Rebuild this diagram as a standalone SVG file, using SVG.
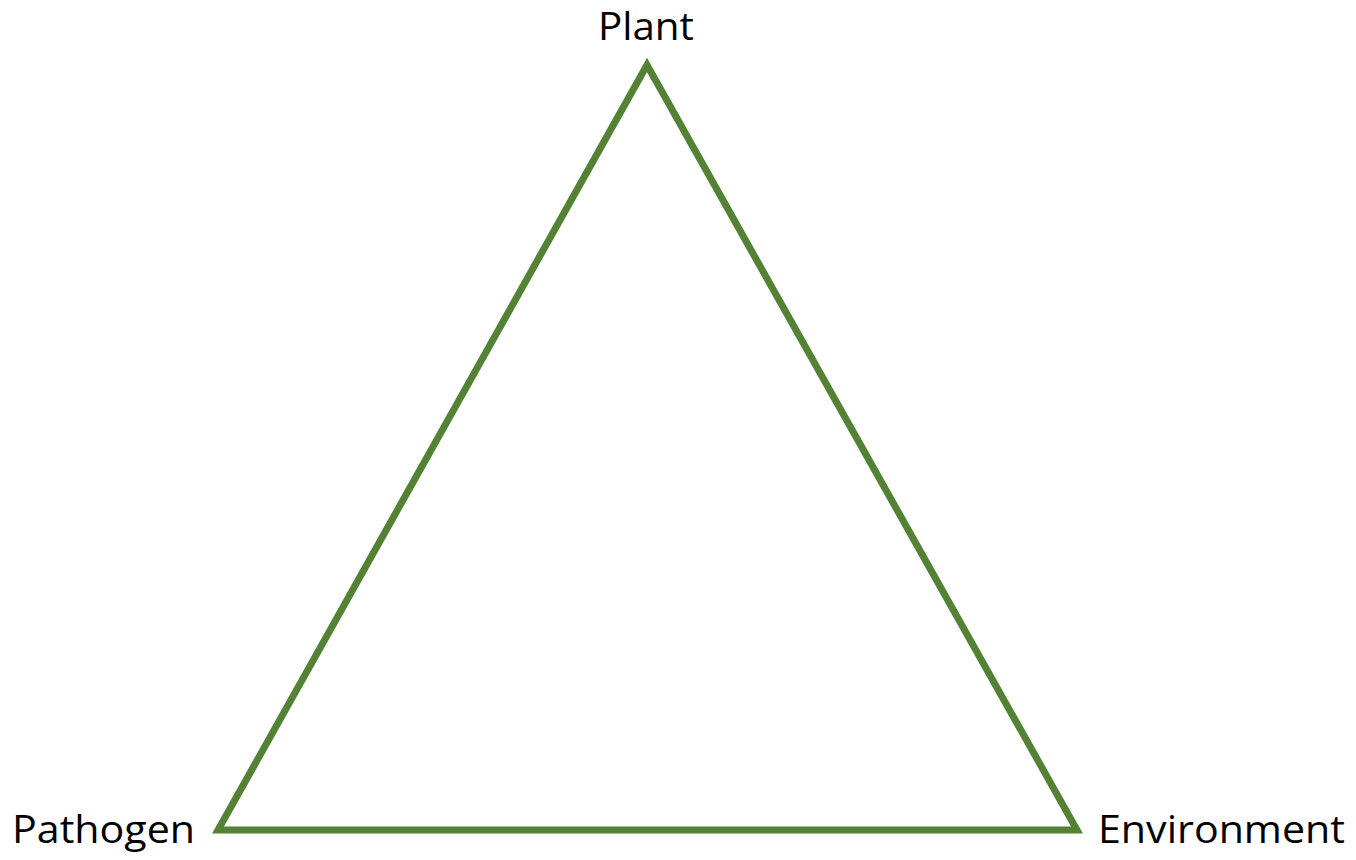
<svg xmlns="http://www.w3.org/2000/svg" width="1356" height="860" viewBox="0 0 1356 860">
<style>
.lbl{font-family:"Open Sans","Liberation Sans",sans-serif;font-size:39px;fill:#000}
.edge{fill:none;stroke:#548235;stroke-width:7;stroke-linejoin:miter}
</style>
<rect width="1356" height="860" fill="#fff"/>
<g id="connectors">
<polygon class="edge" points="647,65 1077,830 218,830"/>
</g>
<g id="plant"><text class="lbl" x="646" y="40" text-anchor="middle" textLength="96" lengthAdjust="spacingAndGlyphs">Plant</text></g>
<g id="pathogen"><text class="lbl" x="12" y="843" textLength="183" lengthAdjust="spacingAndGlyphs">Pathogen</text></g>
<g id="environment"><text class="lbl" x="1098" y="843" textLength="247" lengthAdjust="spacingAndGlyphs">Environment</text></g>
</svg>
